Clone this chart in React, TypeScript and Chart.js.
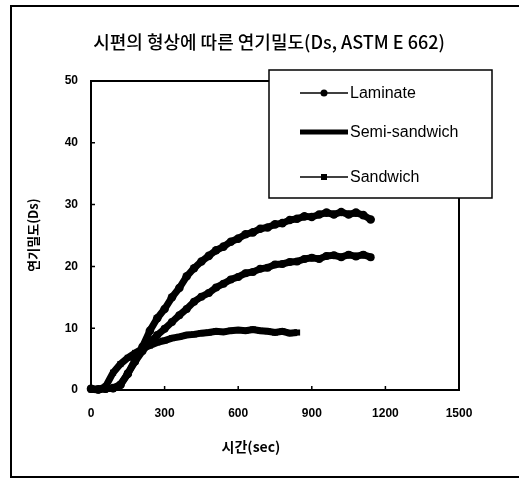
import React, { useEffect, useRef } from "react";
import { Chart, registerables } from "chart.js";

Chart.register(...registerables);

const TITLE = "시편의 형상에 따른 연기밀도(Ds, ASTM E 662)";
const X_TITLE = "시간(sec)";
const Y_TITLE = "연기밀도(Ds)";
const SERIES_NAMES = ["Laminate", "Semi-sandwich", "Sandwich"];

const X_TICKS = [0, 300, 600, 900, 1200, 1500];
const Y_TICKS = [0, 10, 20, 30, 40, 50];

const TIME_LONG = [
  0, 30, 60, 90, 120, 150, 180, 210, 240, 270, 300, 330, 360, 390, 420, 450, 480, 510, 540, 570,
  600, 630, 660, 690, 720, 750, 780, 810, 840, 870, 900, 930, 960, 990, 1020, 1050, 1080, 1110, 1140,
];
const TIME_SHORT = [
  0, 30, 60, 90, 120, 150, 180, 210, 240, 270, 300, 330, 360, 390, 420, 450, 480, 510, 540, 570,
  600, 630, 660, 690, 720, 750, 780, 810, 840,
];

const LAMINATE = [
  0.2, 0.1, 0.2, 0.3, 0.8, 2.6, 4.9, 7.0, 9.6, 11.6, 13.1, 15.0, 16.5, 18.4, 19.7, 20.8, 21.7, 22.6, 23.2, 24.0,
  24.5, 25.2, 25.5, 26.1, 26.3, 26.8, 27.0, 27.5, 27.7, 28.1, 28.0, 28.4, 28.7, 28.4, 28.8, 28.4, 28.7, 28.3, 27.6,
];
const SEMI_SANDWICH = [
  0.2, 0.1, 0.2, 0.3, 0.9, 2.7, 4.6, 6.3, 7.7, 8.9, 9.9, 11.0, 12.1, 13.1, 14.3, 15.1, 15.7, 16.6, 17.2, 17.9,
  18.3, 18.9, 19.1, 19.6, 19.8, 20.3, 20.4, 20.7, 20.8, 21.2, 21.4, 21.2, 21.7, 21.8, 21.5, 21.9, 21.6, 21.9, 21.5,
];
const SANDWICH = [
  0.1, 0.0, 0.6, 2.8, 4.2, 5.2, 6.0, 6.7, 7.2, 7.7, 8.0, 8.4, 8.6, 8.9, 9.0, 9.2, 9.3, 9.5, 9.4, 9.6,
  9.7, 9.6, 9.8, 9.6, 9.5, 9.3, 9.5, 9.2, 9.3,
];

const W = 519;
const H = 479;
const LATIN = '"Liberation Sans", Arial, sans-serif';
const KOREAN = '"Noto Sans CJK KR", "Liberation Sans", sans-serif';

const toPoints = (xs: number[], ys: number[]) => ys.map((v, i) => ({ x: xs[i], y: v }));

const decor = {
  id: "decor",
  beforeDraw(chart: any) {
    const ctx = chart.ctx;
    ctx.save();
    ctx.fillStyle = "#fff";
    ctx.fillRect(0, 0, chart.width, chart.height);
    ctx.restore();
  },
  afterDraw(chart: any) {
    const ctx = chart.ctx;
    const { left, right, top, bottom } = chart.chartArea;
    const xs = chart.scales.x;
    const ys = chart.scales.y;
    ctx.save();
    ctx.strokeStyle = "#000";
    ctx.fillStyle = "#000";

    // outer frame
    ctx.lineWidth = 2;
    ctx.beginPath();
    ctx.moveTo(W, 6);
    ctx.lineTo(11, 6);
    ctx.lineTo(11, 477);
    ctx.lineTo(W, 477);
    ctx.stroke();

    // plot box
    ctx.lineWidth = 2;
    ctx.strokeRect(left, top, right - left, bottom - top);

    // inner tick marks
    ctx.lineWidth = 1.5;
    ctx.beginPath();
    X_TICKS.slice(1, -1).forEach((v) => {
      const px = xs.getPixelForValue(v);
      ctx.moveTo(px, bottom);
      ctx.lineTo(px, bottom - 4);
    });
    Y_TICKS.slice(1, -1).forEach((v) => {
      const py = ys.getPixelForValue(v);
      ctx.moveTo(left, py);
      ctx.lineTo(left + 4, py);
    });
    ctx.stroke();

    // title
    ctx.textAlign = "center";
    ctx.textBaseline = "middle";
    ctx.font = `500 18px ${KOREAN}`;
    ctx.fillText(TITLE, 269, 42);

    // x title
    ctx.font = `bold 14px ${KOREAN}`;
    ctx.fillText(X_TITLE, 251, 447);

    // y title
    ctx.save();
    ctx.translate(33, 235);
    ctx.rotate(-Math.PI / 2);
    ctx.font = `bold 13px ${KOREAN}`;
    ctx.fillText(Y_TITLE, 0, 0);
    ctx.restore();

    // legend
    const lx0 = 269, ly0 = 70, lx1 = 492, ly1 = 198;
    ctx.fillStyle = "#fff";
    ctx.fillRect(lx0, ly0, lx1 - lx0, ly1 - ly0);
    ctx.lineWidth = 1.5;
    ctx.strokeRect(lx0, ly0, lx1 - lx0, ly1 - ly0);
    ctx.fillStyle = "#000";
    const rows = [93, 132, 177];
    const sx0 = 300, sx1 = 348, sm = 324;
    // Laminate
    ctx.lineWidth = 1.5;
    ctx.beginPath();
    ctx.moveTo(sx0, rows[0]);
    ctx.lineTo(sx1, rows[0]);
    ctx.stroke();
    ctx.beginPath();
    ctx.arc(sm, rows[0], 3.5, 0, Math.PI * 2);
    ctx.fill();
    // Semi-sandwich
    ctx.lineWidth = 5;
    ctx.beginPath();
    ctx.moveTo(sx0, rows[1]);
    ctx.lineTo(sx1, rows[1]);
    ctx.stroke();
    // Sandwich
    ctx.lineWidth = 1.5;
    ctx.beginPath();
    ctx.moveTo(sx0, rows[2]);
    ctx.lineTo(sx1, rows[2]);
    ctx.stroke();
    ctx.fillRect(sm - 3, rows[2] - 3, 6, 6);

    ctx.textAlign = "left";
    ctx.font = `16px ${LATIN}`;
    SERIES_NAMES.forEach((n, i) => ctx.fillText(n, 350, rows[i] + 1));

    ctx.restore();
  },
};

export default function App() {
  const ref = useRef<HTMLCanvasElement | null>(null);

  useEffect(() => {
    if (!ref.current) return;
    const chart = new Chart(ref.current, {
      type: "line",
      data: {
        datasets: [
          {
            label: SERIES_NAMES[0],
            data: toPoints(TIME_LONG, LAMINATE),
            borderColor: "#000",
            backgroundColor: "#000",
            borderWidth: 7,
            pointRadius: 4.3,
            pointStyle: "circle",
            pointBorderWidth: 0,
            clip: false,
          },
          {
            label: SERIES_NAMES[1],
            data: toPoints(TIME_LONG, SEMI_SANDWICH),
            borderColor: "#000",
            backgroundColor: "#000",
            borderWidth: 7,
            pointRadius: 4,
            pointStyle: "circle",
            pointBorderWidth: 0,
            clip: false,
          },
          {
            label: SERIES_NAMES[2],
            data: toPoints(TIME_SHORT, SANDWICH),
            borderColor: "#000",
            backgroundColor: "#000",
            borderWidth: 7,
            pointRadius: 4.3,
            pointStyle: "rect",
            pointBorderWidth: 0,
            clip: false,
          },
        ],
      },
      options: {
        responsive: false,
        animation: false,
        events: [],
        layout: { padding: { top: 81, right: 60, left: 0, bottom: 0 } },
        plugins: {
          legend: { display: false },
          title: { display: false },
          tooltip: { enabled: false },
        },
        scales: {
          x: {
            type: "linear",
            min: 0,
            max: 1500,
            afterBuildTicks: (s: any) => {
              s.ticks = X_TICKS.map((v) => ({ value: v }));
            },
            afterFit: (s: any) => {
              s.height = 89;
            },
            grid: { display: false, drawTicks: false },
            border: { display: false },
            ticks: {
              padding: 16,
              color: "#000",
              font: { family: LATIN, size: 12, weight: "bold" },
              maxRotation: 0,
              callback: (v: any) => String(v),
            },
          },
          y: {
            type: "linear",
            min: 0,
            max: 50,
            afterBuildTicks: (s: any) => {
              s.ticks = Y_TICKS.map((v) => ({ value: v }));
            },
            afterFit: (s: any) => {
              s.width = 91;
            },
            grid: { display: false, drawTicks: false },
            border: { display: false },
            ticks: {
              padding: 13,
              color: "#000",
              font: { family: LATIN, size: 12, weight: "bold" },
              callback: (v: any) => String(v),
            },
          },
        },
      },
      plugins: [decor],
    } as any);
    return () => chart.destroy();
  }, []);

  return (
    <div style={{ position: "absolute", left: 0, top: 0, width: W, height: H, background: "#fff" }}>
      <canvas ref={ref} width={W} height={H} style={{ display: "block", width: W, height: H }} />
    </div>
  );
}
